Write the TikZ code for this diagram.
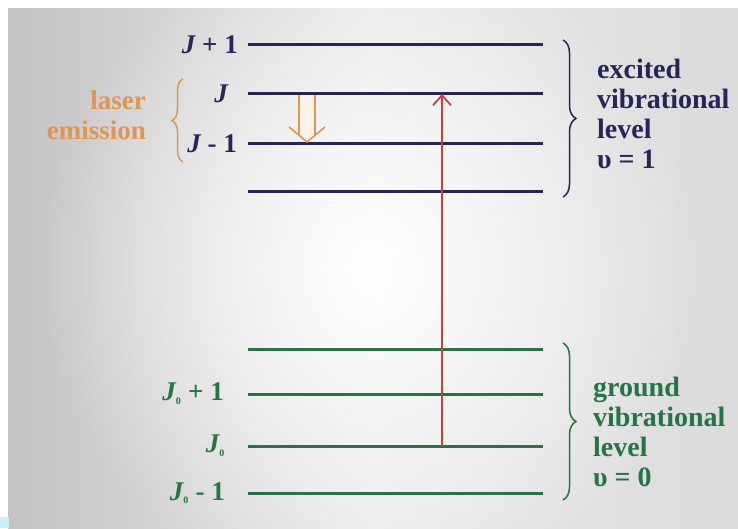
\documentclass[tikz,border=0pt]{standalone}
\usepackage{fontspec}
\setmainfont{Liberation Serif}
\usetikzlibrary{positioning,arrows.meta,decorations.pathreplacing,fadings,calc}
\definecolor{upper}{RGB}{38,38,86}
\definecolor{lower}{RGB}{36,116,70}
\definecolor{laser}{RGB}{222,150,82}
\definecolor{pump}{RGB}{204,64,52}
\tikzfading[name=glow, inner color=transparent!0, outer color=transparent!100]
\newcommand{\Jz}{{\itshape J}\textsubscript{\fontsize{10}{10}\selectfont 0}}

\begin{document}
\begin{tikzpicture}[x=1pt, y=1pt,
  lvl/.style={line width=3pt},
  tag/.style={font=\fontsize{27}{30}\selectfont\bfseries, anchor=east, inner sep=0pt},
  side/.style={font=\fontsize{28}{30}\selectfont\bfseries, align=left, anchor=west, inner sep=0pt},
  brc/.style={decorate, decoration={brace, amplitude=13pt}, line width=1.5pt},
  pumparr/.style={-{Straight Barb[length=10pt, width=18pt]}, pump, line width=1.7pt},
  emitarr/.style={laser, line width=1.6pt, line join=miter}]

% background
\useasboundingbox (0,0) rectangle (738,528);
\fill[white] (0,0) rectangle (738,528);
\shade[left color=black!23, right color=black!14, middle color=black!9] (8,0) rectangle (738,519);
\fill[white, path fading=glow] (40,-80) rectangle (700,600);
\fill[cyan!20] (0,0) rectangle (9,11);

% levels, v = 1 and v = 0
\foreach \n/\y in {e4/483, e3/434, e2/384, e1/336} {
  \coordinate (\n l) at (248,\y);
  \coordinate (\n r) at (543,\y);
  \draw[lvl, upper] (\n l) -- (\n r);
}
\foreach \n/\y in {g4/179, g3/134, g2/82, g1/35} {
  \coordinate (\n l) at (248,\y);
  \coordinate (\n r) at (543,\y);
  \draw[lvl, lower] (\n l) -- (\n r);
}

% level labels
\node[tag, text=upper] (lJp) at ([xshift=-10pt]e4l) {{\itshape J} + 1};
\node[tag, text=upper] (lJ)  at ([xshift=-20pt]e3l) {{\itshape J}};
\node[tag, text=upper] (lJm) at ([xshift=-11pt]e2l) {{\itshape J} - 1};
\node[tag, text=lower] (lJzp) at ([xshift=-24pt]g3l) {\Jz{} + 1};
\node[tag, text=lower] (lJz)  at ([xshift=-23pt]g2l) {\Jz};
\node[tag, text=lower] (lJzm) at ([xshift=-23pt]g1l) {\Jz{} - 1};

% laser emission
\coordinate (bl) at (183,366);
\coordinate (bu) at (183,449);
\draw[brc, laser, decoration={amplitude=11pt}] (bl) -- (bu);
\node[tag, text=laser, align=right] (emit) at (146,413) {laser\\emission};

% side groups
\coordinate (ub) at (563,488);
\coordinate (lb) at (563,331);
\draw[brc, upper] (ub) -- (lb);
\node[side, text=upper] (exc) at (597,414) {excited\\vibrational\\level\\υ = 1};
\coordinate (ua) at (563,185);
\coordinate (la) at (563,28);
\draw[brc, lower] (ua) -- (la);
\node[side, text=lower] (gnd) at (593,96) {ground\\vibrational\\level\\υ = 0};

% transitions
\coordinate (pl) at (442,82);
\coordinate (pu) at (442,434);
\draw[pumparr] (pl) -- (pu);
\coordinate (el) at (307,386);
\coordinate (eu) at (307,434);
\fill[laser!12] ($(eu)+(-8,-1.5)$) -- ($(el)+(-8,7)$) -- (el) -- ($(el)+(8,7)$) -- ($(eu)+(8,-1.5)$) -- cycle;
\draw[emitarr] ($(eu)+(-8,-1.5)$) -- ($(el)+(-8,7)$);
\draw[emitarr] ($(eu)+(8,-1.5)$) -- ($(el)+(8,7)$);
\draw[emitarr] ($(el)+(-18,15)$) -- (el) -- ($(el)+(18,15)$);
\end{tikzpicture}
\end{document}
